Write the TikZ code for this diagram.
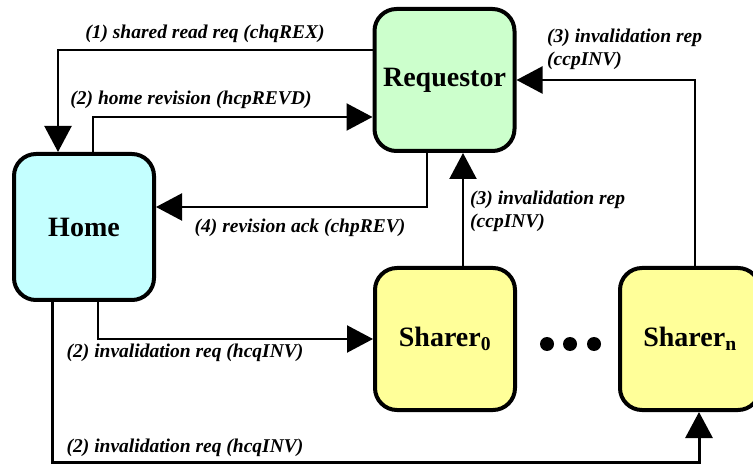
\documentclass[tikz,border=0pt]{standalone}
\usepackage{fontspec}
\setmainfont{Liberation Serif}
\usetikzlibrary{arrows.meta,positioning}
\definecolor{reqgreen}{HTML}{CCFFCC}
\definecolor{homecyan}{HTML}{C4FFFF}
\definecolor{shyellow}{HTML}{FFFF99}
\tikzset{
  agent/.style={draw=black, line width=4pt, rounded corners=22pt, minimum width=140pt, minimum height=142pt, inner sep=0pt, font=\fontsize{28}{30}\selectfont\bfseries},
  msg/.style={-{Triangle[length=26pt,width=27pt]}, line width=2.2pt, black},
  msgtext/.style={font=\fontsize{19.5}{23}\selectfont\bfseries\itshape, align=left, inner sep=0pt}
}

\begin{document}
\begin{tikzpicture}[x=1pt,y=-1pt]
  \useasboundingbox (0,0) rectangle (753,465);
  \node[agent, fill=reqgreen] (req) at (444.5,80) {Requestor};
  \node[agent, fill=homecyan, minimum height=146pt] (home) at (84,227) {Home};
  \node[agent, fill=shyellow] (sh0) at (445,339) {Sharer\textsubscript{0}};
  \node[agent, fill=shyellow] (shn) at (690,339) {Sharer\textsubscript{n}};
  \foreach \x in {547,570,594}{\fill (\x,344) circle (7);}
  \coordinate (shin) at ([xshift=9pt]shn.south);
  \coordinate (bot) at (shin |- 0,462.5);
  \draw[msg] ([yshift=30pt]req.west) -| ([xshift=-26pt]home.north);
  \draw[msg] ([xshift=9pt]home.north) |- ([yshift=-37pt]req.west);
  \draw[msg] ([xshift=-17.5pt]req.south) |- ([yshift=20pt]home.east);
  \draw[msg] ([xshift=18pt]sh0.north) -- ([xshift=18.5pt]req.south);
  \draw[msg] ([xshift=5pt]shn.north) |- (req.east);
  \draw[msg] ([xshift=14pt]home.south) |- (sh0.west);
  \draw[msg, line width=3pt] ([xshift=-32pt]home.south) |- (bot) -- (shin);
  \node[msgtext] (t1) at (205,34) {(1) shared read req (chqREX)};
  \node[msgtext] (t2) at (191,100) {(2) home revision (hcpREVD)};
  \node[msgtext] (t4) at (300,228) {(4) revision ack (chpREV)};
  \node[msgtext, anchor=west] (t3a) at (470,211) {(3) invalidation rep\\(ccpINV)};
  \node[msgtext, anchor=west] (t3b) at (547,49) {(3) invalidation rep\\(ccpINV)};
  \node[msgtext] (t2a) at (185,353) {(2) invalidation req (hcqINV)};
  \node[msgtext] (t2b) at (185,448) {(2) invalidation req (hcqINV)};
\end{tikzpicture}
\end{document}
